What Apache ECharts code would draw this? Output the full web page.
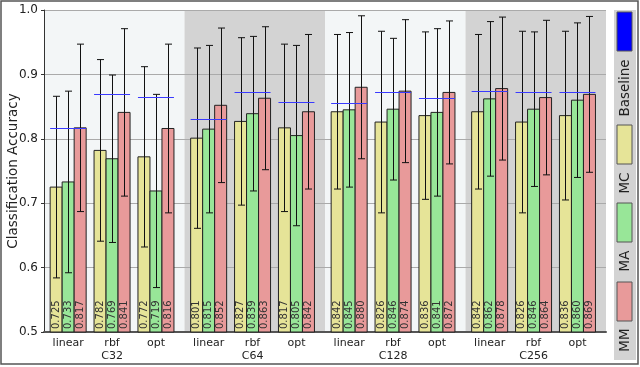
<!DOCTYPE html>
<html>
<head>
<meta charset="utf-8">
<script src="https://cdn.jsdelivr.net/npm/echarts@6/dist/echarts.min.js"></script>
<style>
  html, body { margin: 0; padding: 0; background: #fff; }
  #chart { width: 640px; height: 367px; }
</style>
</head>
<body>
<div id="chart"></div>
<script>
// classifier accuracy per feature size / kernel
const groups = ['C32', 'C64', 'C128', 'C256'];
const kernels = ['linear', 'rbf', 'opt'];

const mcVals = [0.725, 0.782, 0.772, 0.801, 0.827, 0.817, 0.842, 0.826, 0.836, 0.842, 0.826, 0.836];
const maVals = [0.733, 0.769, 0.719, 0.815, 0.839, 0.805, 0.845, 0.846, 0.841, 0.862, 0.846, 0.860];
const mmVals = [0.817, 0.841, 0.816, 0.852, 0.863, 0.842, 0.880, 0.874, 0.872, 0.878, 0.864, 0.869];

const mcErr = [0.141, 0.141, 0.140, 0.140, 0.130, 0.130, 0.120, 0.141, 0.130, 0.120, 0.141, 0.131];
const maErr = [0.141, 0.130, 0.150, 0.130, 0.120, 0.140, 0.120, 0.110, 0.130, 0.120, 0.120, 0.120];
const mmErr = [0.130, 0.130, 0.131, 0.120, 0.111, 0.120, 0.111, 0.111, 0.111, 0.111, 0.120, 0.121];

const baseline = [0.816, 0.869, 0.865, 0.830, 0.872, 0.857, 0.856, 0.872, 0.864, 0.875, 0.872, 0.873];

const yTicks = [0.5, 0.6, 0.7, 0.8, 0.9, 1.0];

// x layout: each group 3.2 units wide, kernels 1 unit apart
const GROUP_W = 3.2;
const xPos = [];
const xLabels = {};
groups.forEach((g, gi) => {
    kernels.forEach((k, ki) => {
        const x = gi * GROUP_W + 0.55 + ki;
        xPos.push(x);
        xLabels[Math.round(x * 100)] = ki === 1 ? k + '\n' + g : k;
    });
});

const colors = { MC: '#e6e498', MA: '#98e698', MM: '#e89a9a', Baseline: '#0000ff' };
const BAR_W = 12;
const FONT = 'DejaVu Sans';

function barSeries(name, vals, errs, offset) {
    return {
        name: name,
        type: 'custom',
        z: 3,
        data: xPos.map((x, i) => [x, vals[i], errs[i]]),
        renderItem: function (params, api) {
            const top = api.coord([api.value(0), api.value(1)]);
            const bottom = api.coord([api.value(0), 0.5]);
            const cx = top[0] + offset;
            return {
                type: 'group',
                children: [
                    {
                        type: 'rect',
                        shape: { x: cx - BAR_W / 2, y: top[1], width: BAR_W, height: bottom[1] - top[1] },
                        style: { fill: colors[name], stroke: '#222', lineWidth: 1 }
                    },
                    {
                        type: 'text',
                        x: cx,
                        y: bottom[1] - 3,
                        rotation: Math.PI / 2,
                        style: {
                            text: api.value(1).toFixed(3),
                            font: '10px "' + FONT + '"',
                            fill: '#333',
                            align: 'left',
                            verticalAlign: 'middle'
                        }
                    }
                ]
            };
        }
    };
}

function errSeries(name, vals, errs, offset) {
    return {
        name: name + ' err',
        type: 'custom',
        z: 4,
        silent: true,
        data: xPos.map((x, i) => [x, vals[i], errs[i]]),
        renderItem: function (params, api) {
            const x = api.value(0), v = api.value(1), e = api.value(2);
            const hi = api.coord([x, v + e]);
            const lo = api.coord([x, v - e]);
            const cx = Math.round(hi[0] + offset) + 0.5;
            const st = { stroke: '#111', lineWidth: 1 };
            return {
                type: 'group',
                children: [
                    { type: 'line', shape: { x1: cx, y1: hi[1], x2: cx, y2: lo[1] }, style: st },
                    { type: 'line', shape: { x1: cx - 3.5, y1: hi[1], x2: cx + 3.5, y2: hi[1] }, style: st },
                    { type: 'line', shape: { x1: cx - 3.5, y1: lo[1], x2: cx + 3.5, y2: lo[1] }, style: st }
                ]
            };
        }
    };
}

// legend drawn by hand (vertical strip with rotated labels)
const legendItems = [
    { name: 'Baseline', swatchY: 12, textY: 88 },
    { name: 'MC', swatchY: 125, textY: 183 },
    { name: 'MA', swatchY: 203, textY: 261 },
    { name: 'MM', swatchY: 282, textY: 340 }
];
const legendGraphics = [
    { type: 'rect', shape: { x: 614, y: 10, width: 22, height: 350 }, style: { fill: '#d3d3d3' }, silent: true }
];
legendItems.forEach(it => {
    legendGraphics.push({
        type: 'rect',
        shape: { x: 617, y: it.swatchY, width: 15, height: 39 },
        style: { fill: colors[it.name], stroke: '#555', lineWidth: 1 },
        silent: true
    });
    legendGraphics.push({
        type: 'text',
        x: 625,
        y: it.textY,
        rotation: Math.PI / 2,
        silent: true,
        style: {
            text: it.name,
            font: '13.5px "' + FONT + '"',
            fill: '#222',
            align: 'center',
            verticalAlign: 'middle'
        }
    });
});

const chart = echarts.init(document.getElementById('chart'));

chart.setOption({
    animation: false,
    backgroundColor: '#fff',
    grid: { left: 44, right: 34, top: 10, bottom: 35, outerBoundsMode: 'none' },
    xAxis: {
        type: 'value',
        min: 0,
        max: groups.length * GROUP_W,
        interval: 0.05,
        z: 1,
        axisLine: { show: true, onZero: false, lineStyle: { color: '#555', width: 2 } },
        axisTick: { show: false },
        splitLine: { show: false },
        axisLabel: {
            margin: 5,
            fontFamily: FONT,
            fontSize: 11,
            lineHeight: 13,
            color: '#222',
            formatter: function (v) {
                return xLabels[Math.round(v * 100)] || '';
            }
        }
    },
    yAxis: {
        type: 'value',
        min: yTicks[0],
        max: yTicks[yTicks.length - 1],
        interval: 0.1,
        z: 1,
        name: 'Classification Accuracy',
        nameLocation: 'middle',
        nameRotate: 90,
        nameGap: 24,
        nameMoveOverlap: false,
        nameTextStyle: { fontFamily: FONT, fontSize: 13.5, color: '#222' },
        axisLine: { show: true, lineStyle: { color: '#333', width: 1 } },
        axisTick: { show: true, length: 3, lineStyle: { color: '#333' } },
        splitLine: { show: true, lineStyle: { color: '#aaa', width: 1 } },
        axisLabel: {
            margin: 6,
            fontFamily: FONT,
            fontSize: 12,
            color: '#222',
            formatter: function (v) { return v.toFixed(1); }
        }
    },
    series: [
        {
            name: 'bg',
            type: 'custom',
            z: 0,
            silent: true,
            data: groups.map((g, gi) => [gi * GROUP_W, (gi + 1) * GROUP_W, gi % 2]),
            renderItem: function (params, api) {
                const a = api.coord([api.value(0), 1.0]);
                const b = api.coord([api.value(1), 0.5]);
                return {
                    type: 'rect',
                    shape: { x: a[0], y: a[1], width: b[0] - a[0], height: b[1] - a[1] },
                    style: { fill: api.value(2) ? '#d3d3d3' : '#f3f6f7' }
                };
            }
        },
        barSeries('MC', mcVals, mcErr, -BAR_W),
        barSeries('MA', maVals, maErr, 0),
        barSeries('MM', mmVals, mmErr, BAR_W),
        errSeries('MC', mcVals, mcErr, -BAR_W),
        errSeries('MA', maVals, maErr, 0),
        errSeries('MM', mmVals, mmErr, BAR_W),
        {
            name: 'Baseline',
            type: 'custom',
            z: 5,
            silent: true,
            data: xPos.map((x, i) => [x, baseline[i]]),
            renderItem: function (params, api) {
                const p = api.coord([api.value(0), api.value(1)]);
                const y = Math.round(p[1]) + 0.5;
                return {
                    type: 'line',
                    shape: { x1: p[0] - 1.5 * BAR_W, y1: y, x2: p[0] + 1.5 * BAR_W, y2: y },
                    style: { stroke: '#3a3aff', lineWidth: 1 }
                };
            }
        }
    ],
    graphic: [
        {
            type: 'rect',
            shape: { x: 1, y: 1, width: 637, height: 363 },
            style: { fill: null, stroke: '#555', lineWidth: 1.5 },
            silent: true
        }
    ].concat(legendGraphics)
});
</script>
</body>
</html>
